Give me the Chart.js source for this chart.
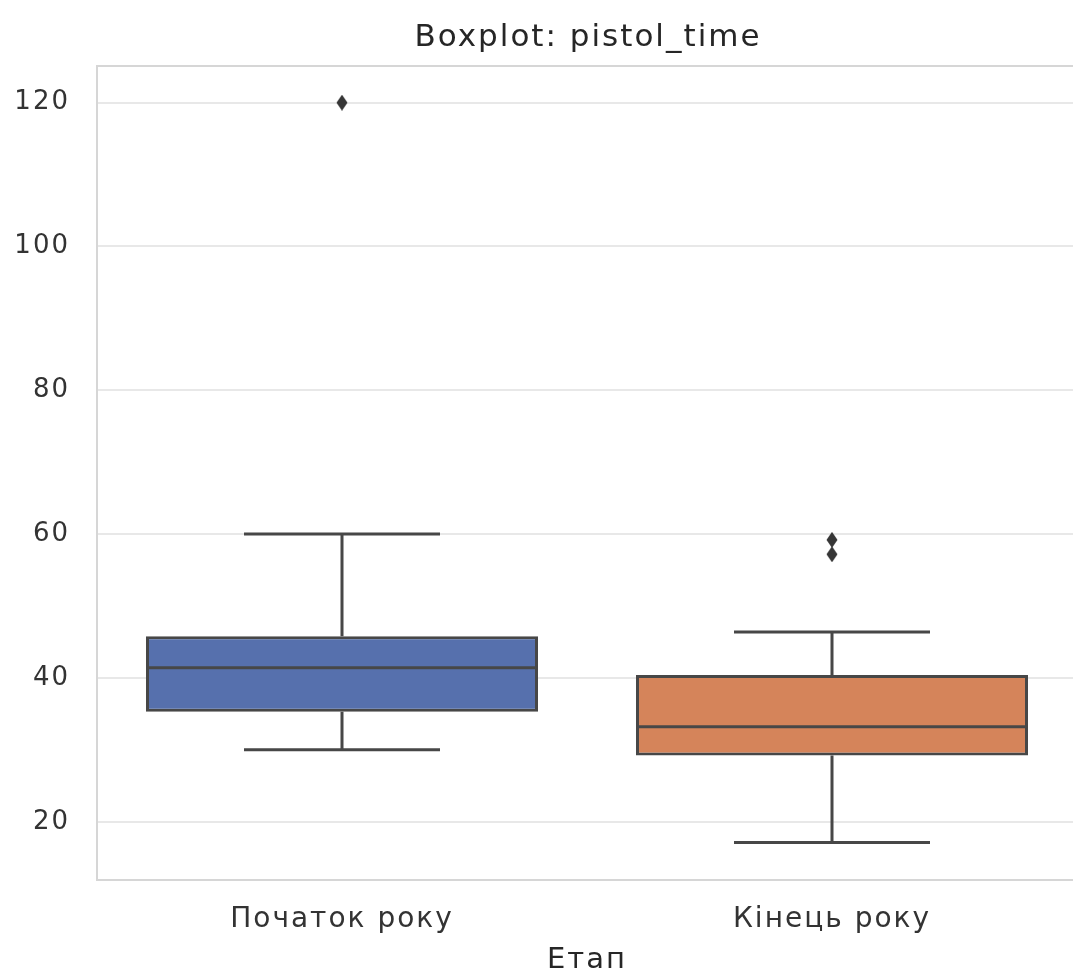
<!DOCTYPE html>
<html>
<head>
<meta charset="utf-8">
<script src="https://cdn.jsdelivr.net/npm/chart.js@4"></script>
<style>
html,body{margin:0;padding:0;background:#fff;overflow:hidden;}
#wrap{width:1085px;height:979px;}
</style>
</head>
<body>
<div id="wrap"><canvas id="c" width="1085" height="979"></canvas></div>
<script>
// ---- data ----
const categories = ["Початок року", "Кінець року"];
const q1 = [35.3, 29.2];
const median = [41.4, 33.2];
const q3 = [45.8, 40.4];
const whiskerLow = [30, 17.1];
const whiskerHigh = [60, 46.4];
const outliers = [[120], [57.2, 59.2]];
const yTicks = [20, 40, 60, 80, 100, 120];
const chartTitle = "Boxplot: pistol_time";
const xTitle = "Етап";

// ---- styles ----
const boxColors = ["#5670ad", "#d5845a"];
const lineColor = "#474747";
const FONT = "'DejaVu Sans', sans-serif";

// thin diamond marker (seaborn 'd')
const marker = document.createElement('canvas');
marker.width = 12; marker.height = 16;
(function(){
  const m = marker.getContext('2d');
  m.fillStyle = '#363636';
  m.beginPath();
  m.moveTo(6, 0); m.lineTo(11.5, 8); m.lineTo(6, 16); m.lineTo(0.5, 8);
  m.closePath(); m.fill();
})();

const outlierPoints = [];
outliers.forEach((arr, i) => arr.forEach(v => outlierPoints.push({x: categories[i], y: v})));

const boxPlugin = {
  id: 'boxparts',
  beforeDraw(chart) {
    chart.ctx.letterSpacing = '2px';
  },
  beforeDatasetsDraw(chart) {
    const ca = chart.chartArea, ctx = chart.ctx;
    ctx.save();
    ctx.strokeStyle = '#d6d6d6';
    ctx.lineWidth = 2;
    ctx.strokeRect(ca.left, ca.top, ca.right - ca.left, ca.bottom - ca.top);
    const xs = chart.scales.x, ys = chart.scales.y;
    const band = xs.width / categories.length;
    ctx.strokeStyle = lineColor;
    ctx.lineWidth = 3;
    categories.forEach((c, i) => {
      const x = xs.getPixelForValue(i);
      const capHalf = band * 0.2;
      ctx.beginPath();
      ctx.moveTo(x, ys.getPixelForValue(q3[i]));
      ctx.lineTo(x, ys.getPixelForValue(whiskerHigh[i]));
      ctx.moveTo(x, ys.getPixelForValue(q1[i]));
      ctx.lineTo(x, ys.getPixelForValue(whiskerLow[i]));
      ctx.moveTo(x - capHalf, ys.getPixelForValue(whiskerHigh[i]));
      ctx.lineTo(x + capHalf, ys.getPixelForValue(whiskerHigh[i]));
      ctx.moveTo(x - capHalf, ys.getPixelForValue(whiskerLow[i]));
      ctx.lineTo(x + capHalf, ys.getPixelForValue(whiskerLow[i]));
      ctx.stroke();
    });
    ctx.restore();
  },
  afterDatasetsDraw(chart) {
    const ctx = chart.ctx;
    const xs = chart.scales.x, ys = chart.scales.y;
    const band = xs.width / categories.length;
    ctx.save();
    ctx.strokeStyle = lineColor;
    ctx.lineWidth = 3;
    categories.forEach((c, i) => {
      const x = xs.getPixelForValue(i);
      const half = band * 0.4;
      const y = ys.getPixelForValue(median[i]);
      ctx.beginPath();
      ctx.moveTo(x - half, y);
      ctx.lineTo(x + half, y);
      ctx.stroke();
    });
    ctx.restore();
  },
  afterDraw(chart) {
    const ca = chart.chartArea, ctx = chart.ctx;
    ctx.save();
    ctx.letterSpacing = '2px';
    ctx.font = "31px " + FONT;
    ctx.fillStyle = '#262626';
    ctx.textAlign = 'center';
    ctx.textBaseline = 'middle';
    ctx.fillText(chartTitle, (ca.left + ca.right) / 2 + 1, 38);
    ctx.restore();
  }
};

new Chart(document.getElementById('c'), {
  type: 'bar',
  data: {
    labels: categories,
    datasets: [
      {
        type: 'bar',
        data: categories.map((c, i) => [q1[i], q3[i]]),
        backgroundColor: boxColors,
        borderColor: lineColor,
        borderWidth: 3,
        borderSkipped: false,
        barPercentage: 0.8,
        categoryPercentage: 1.0,
        order: 2
      },
      {
        type: 'line',
        data: outlierPoints,
        showLine: false,
        pointStyle: marker,
        pointRadius: 7,
        order: 1
      }
    ]
  },
  options: {
    responsive: false,
    animation: false,
    devicePixelRatio: 1,
    layout: {padding: {top: 66, right: 6, bottom: 0, left: 0}},
    plugins: {
      legend: {display: false},
      tooltip: {enabled: false},
      title: {display: false}
    },
    scales: {
      x: {
        grid: {display: false, drawTicks: false},
        border: {display: false},
        ticks: {color: '#333333', padding: 23, font: {family: FONT, size: 28}},
        title: {display: true, text: xTitle, color: '#262626', padding: {top: 4, bottom: 4},
                font: {family: FONT, size: 29, lineHeight: 1.0}},
        afterFit(s) { s.height = 99; }
      },
      y: {
        min: 11.9,
        max: 125.1,
        grid: {color: '#e8e8e8', lineWidth: 2, drawTicks: false},
        border: {display: false},
        ticks: {color: '#333333', padding: 27, font: {family: FONT, size: 26}},
        afterBuildTicks(s) { s.ticks = yTicks.map(v => ({value: v})); },
        afterFit(s) { s.width = 97; }
      }
    }
  },
  plugins: [boxPlugin]
});
</script>
</body>
</html>
